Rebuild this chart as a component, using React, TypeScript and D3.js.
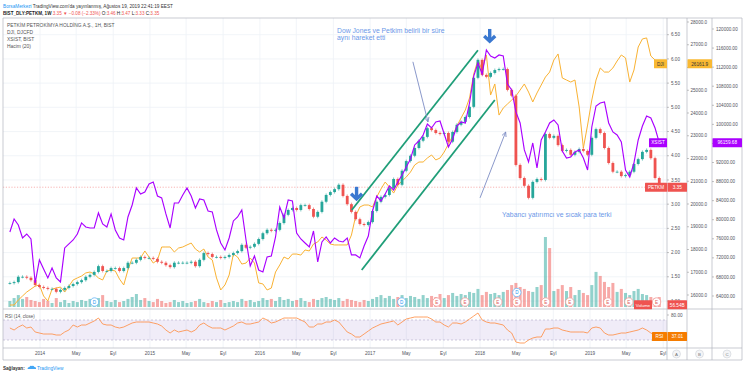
import React from 'react';
import * as d3 from 'd3';

// ---------------- DATA ----------------
const START_DATE = new Date(2013, 8, 23);
const STEP_DAYS = 14;

const petkmClose = [
  1.37, 1.39, 1.50, 1.50, 1.48, 1.43, 1.33, 1.29, 1.27, 1.25,
  1.25, 1.19, 1.23, 1.27, 1.31, 1.35, 1.39, 1.43, 1.50, 1.54,
  1.60, 1.72, 1.62, 1.62, 1.68, 1.68, 1.62, 1.68, 1.79, 1.79,
  1.85, 1.91, 1.89, 1.89, 1.87, 1.81, 1.79, 1.74, 1.70, 1.79,
  1.79, 1.79, 1.79, 1.81, 1.72, 1.85, 1.99, 1.97, 1.91, 1.91,
  1.89, 1.91, 1.95, 1.99, 2.03, 2.16, 2.10, 2.12, 2.18, 2.28,
  2.40, 2.47, 2.45, 2.47, 2.61, 2.78, 2.88, 2.92, 2.88, 2.98,
  2.98, 2.90, 2.74, 2.84, 3.05, 3.19, 3.25, 3.31, 3.40, 3.17,
  3.00, 2.84, 2.69, 2.59, 2.57, 2.63, 2.86, 3.05, 3.15, 3.19,
  3.33, 3.52, 3.40, 3.69, 3.89, 4.00, 4.16, 4.31, 4.39, 4.57,
  4.53, 4.47, 4.45, 4.47, 4.29, 4.49, 4.64, 4.70, 4.80, 5.01,
  5.61, 5.98, 5.67, 5.63, 5.71, 5.77, 5.79, 5.79, 5.36, 5.24,
  3.81, 3.54, 3.38, 3.13, 3.46, 3.52, 3.50, 4.45, 4.37, 4.41,
  4.22, 4.10, 4.12, 4.02, 4.08, 4.14, 4.10, 4.02, 4.37, 4.55,
  4.47, 4.16, 3.85, 3.67, 3.67, 3.58, 3.60, 3.67, 3.83, 3.93,
  4.08, 4.12, 3.95, 3.54, 3.35,
];

const djiClose = [
  15560, 15560, 15780, 15955, 16130, 16260, 16390, 16440, 15955, 15735,
  16260, 16305, 16350, 16130, 16390, 16660, 16750, 16835, 16970, 17010,
  16925, 16750, 16660, 17055, 17100, 17055, 16700, 16440, 17100, 17625,
  17625, 17625, 17935, 17670, 17405, 17540, 18110, 18110, 18110, 17890,
  18065, 18110, 18200, 18285, 18020, 17890, 18020, 17670, 17540, 16750,
  16220, 16440, 16880, 17800, 17670, 17360, 17405, 17625, 17405, 16530,
  16485, 16220, 16305, 17010, 17320, 17670, 17580, 17800, 17800, 17755,
  17980, 17935, 18240, 18330, 18550, 18415, 18240, 18200, 18200, 18200,
  18200, 18635, 19470, 19870, 19955, 19955, 19870, 20310, 20660, 20965,
  20745, 20480, 20835, 21010, 21185, 21405, 21715, 21845, 21845, 22020,
  22155, 21935, 22020, 22285, 22635, 22990, 23430, 23780, 24130, 24660,
  25715, 26330, 25890, 26550, 24790, 25275, 23910, 24220, 24395, 24570,
  24745, 25010, 25275, 24920, 24485, 24880, 25230, 25580, 25800, 26330,
  26595, 25540, 25450, 25360, 25450, 24265, 22460, 23470, 24570, 25450,
  25980, 25800, 25800, 25980, 26285, 26550, 26420, 25360, 25890, 26900,
  27255, 27300, 26505, 26330, 26161.9,
];

const xsistClose = [
  77430, 80160, 78900, 76170, 77010, 75960, 66740, 71560, 69670, 67790,
  69880, 67790, 66950, 74080, 74920, 75750, 77010, 79320, 78480, 78270,
  78270, 81420, 79110, 78480, 81210, 77850, 76170, 75750, 80580, 83090,
  86660, 85400, 85820, 87500, 87920, 84980, 84560, 81210, 78270, 83510,
  83510, 85190, 86660, 84980, 82460, 84350, 84140, 81830, 81620, 77850,
  75120, 73660, 76170, 79740, 80580, 82040, 75750, 70300, 72400, 69460,
  69040, 72190, 72400, 76380, 82670, 80370, 84140, 83930, 77220, 75960,
  75120, 74290, 77640, 71140, 75330, 76380, 75120, 76170, 75540, 75330,
  76170, 72610, 72610, 71980, 74500, 76590, 81830, 84980, 83930, 85400,
  87080, 86240, 87920, 89390, 91060, 92740, 95680, 96510, 97770, 100080,
  99240, 100500, 100710, 97980, 95260, 96930, 99660, 100500, 100290, 104480,
  110140, 112870, 110560, 115600, 114340, 113920, 114550, 114340, 108470, 107210,
  102600, 100290, 94630, 92110, 96090, 90850, 96720, 98400, 100290, 100920,
  99870, 94420, 92950, 93160, 94210, 94630, 92950, 90430, 99450, 103850,
  104480, 104690, 100290, 98400, 97770, 96300, 90430, 88960, 91900, 96720,
  99660, 101760, 101340, 99240, 96159.68,
];

const rsiValues = [
  54, 50, 56, 60, 54, 56, 46, 44, 42, 42,
  42, 40, 40, 46, 50, 60, 56, 60, 60, 64,
  68, 74, 62, 60, 60, 56, 54, 56, 60, 64,
  66, 66, 66, 66, 64, 62, 58, 50, 44, 50,
  46, 48, 50, 46, 50, 60, 64, 58, 54, 54,
  54, 50, 54, 58, 64, 66, 62, 62, 64, 66,
  74, 70, 64, 66, 70, 74, 74, 74, 74, 70,
  66, 56, 56, 62, 62, 66, 66, 70, 66, 56,
  46, 42, 36, 36, 42, 48, 54, 58, 62, 64,
  66, 68, 60, 66, 72, 74, 76, 76, 76, 76,
  72, 66, 66, 60, 56, 64, 64, 62, 66, 72,
  78, 84, 70, 66, 64, 64, 62, 60, 50, 44,
  26, 24, 24, 30, 34, 36, 36, 52, 52, 54,
  54, 50, 48, 46, 46, 46, 46, 44, 54, 56,
  54, 44, 40, 40, 42, 44, 44, 46, 48, 50,
  54, 50, 44, 40, 37.01,
];

const volumeValues = [
  34, 51, 68, 46, 57, 40, 34,
  28, 46, 34, 23, 51, 28, 40, 23, 34,
  28, 40, 34, 46, 28, 51, 68, 34, 28, 40,
  28, 34, 46, 57, 74, 40, 51, 34, 28, 46,
  34, 23, 28, 40, 28, 34, 23, 28, 34, 46,
  28, 23, 34, 28, 40, 23, 28, 34, 28, 46,
  34, 40, 28, 34, 51, 40, 46, 34, 57, 40,
  46, 34, 40, 51, 34, 28, 46, 40, 51, 57,
  46, 40, 51, 34, 46, 40, 34, 28, 40, 34,
  46, 57, 68, 51, 63, 46, 57, 68, 51, 63,
  57, 46, 68, 51, 63, 57, 74, 51, 68, 80,
  63, 74, 68, 86, 80, 103, 68, 86, 74, 80,
  68, 86, 97, 125, 137, 114, 103, 91, 86, 114,
  125, 399, 336, 91, 103, 125, 91, 114, 68, 97,
  80, 68, 125, 200, 177, 143, 114, 137, 86, 103,
  80, 68, 91, 103, 74, 68, 57, 51, 56.54,
];

const timeTickDates = [
  '2014-01-01', '2014-05-01', '2014-09-01', '2015-01-01', '2015-05-01', '2015-09-01',
  '2016-01-01', '2016-05-01', '2016-09-01', '2017-01-01', '2017-05-01', '2017-09-01',
  '2018-01-01', '2018-05-01', '2018-09-01', '2019-01-01', '2019-05-01', '2019-09-01',
];
const timeTickLabels = [
  '2014', 'May', 'Eyl', '2015', 'May', 'Eyl', '2016', 'May', 'Eyl',
  '2017', 'May', 'Eyl', '2018', 'May', 'Eyl', '2019', 'May', 'Eyl',
];
const petkmTicks = [1.0, 1.5, 2.0, 2.5, 3.0, 3.5, 4.0, 4.5, 5.0, 5.5, 6.0, 6.5];
const djiTicks = [16000, 17000, 18000, 19000, 20000, 21000, 22000, 23000, 24000, 25000, 26000, 27000, 28000];
const xsistTicks = [64000, 68000, 72000, 76000, 80000, 84000, 88000, 92000, 96000, 100000, 104000, 108000, 112000, 116000, 120000];

const dividendDates = ['2014-07-01', '2017-04-16'];
const dividendStacked = ['2018-05-03'];
const earningsDates = ['2017-08-10', '2017-11-12', '2018-03-01', '2018-05-03', '2018-08-07', '2018-10-26', '2019-03-01', '2019-05-10', '2019-08-10'];

// drawings anchored to [date, PETKM price]
const channelUpper: [string, number][] = [['2016-11-01', 2.88], ['2017-12-25', 6.18]];
const channelLower: [string, number][] = [['2016-12-04', 1.64], ['2018-02-19', 5.15]];
const arrowTips: [string, number][] = [['2016-11-17', 3.09], ['2018-02-02', 6.35]];
const pointer1: [string, number][] = [['2017-05-23', 5.94], ['2017-07-12', 4.70]];
const pointer2: [string, number][] = [['2018-01-01', 3.13], ['2018-03-27', 4.49]];
const note1Anchor: [string, number] = ['2016-09-13', 6.53];
const note2Anchor: [string, number] = ['2018-03-15', 2.73];

const FONT = "'Liberation Sans', Arial, sans-serif";
const UP = '#26a69a';
const DOWN = '#ef5350';
const DJI_COLOR = '#f9b233';
const XSIST_COLOR = '#aa00ff';
const RSI_COLOR = '#ff8a3d';
const NOTE_COLOR = '#6b98e8';

const pd = (s: string) => new Date(s + 'T00:00:00');

function Tag({ x, y, w, text, fill, color = '#fff', fs = 4.7 }: any) {
  return (
    <g>
      <rect x={x} y={y - 4.5} width={w} height={9} fill={fill} rx={0.5} />
      <text x={x + w / 2} y={y + 1.7} fontSize={fs} fill={color} textAnchor="middle" fontFamily={FONT}>{text}</text>
    </g>
  );
}

export default function App() {
  const L = 3, R = 667;
  const mainTop = 18, mainBottom = 309, rsiBottom = 348, axisBottom = 360;
  const colP = 667, colD = 687, colX = 712, colEnd = 742;

  const x = d3.scaleTime().domain([pd('2014-01-01'), pd('2019-01-01')]).range([40, 590]);
  const yP = d3.scaleLinear().domain([1, 6.5]).range([301, 34.7]);
  const yD = d3.scaleLinear().domain([16000, 28000]).range([295, 22]);
  const yX = d3.scaleLinear().domain([64000, 120000]).range([296, 29]);
  const yR = d3.scaleLinear().domain([30, 70]).range([340, 320]);
  const yV = d3.scaleLinear().domain([0, d3.max(volumeValues) as number]).range([307, 237]);

  const dates = petkmClose.map((_, i) => d3.timeDay.offset(START_DATE, i * STEP_DAYS));
  const candles = petkmClose.map((c, i) => {
    const o = i > 0 ? petkmClose[i - 1] : c;
    return { d: dates[i], o, c, up: c >= o, v: volumeValues[i] };
  });

  const lineGen = (ys: (v: number) => number) =>
    d3.line<number>().x((_, i) => x(dates[i])).y((v) => ys(v));

  const djiPath = lineGen(yD)(djiClose) || '';
  const xsistPath = lineGen(yX)(xsistClose) || '';
  const rsiPath = lineGen(yR)(rsiValues) || '';

  const tX = timeTickDates.map((s) => x(pd(s)));
  const ptp = (a: [string, number]) => [x(pd(a[0])), yP(a[1])];

  const drawLine = (seg: [string, number][], stroke: string, w: number, key: string) => {
    const [a, b] = [ptp(seg[0]), ptp(seg[1])];
    return <line key={key} x1={a[0]} y1={a[1]} x2={b[0]} y2={b[1]} stroke={stroke} strokeWidth={w} />;
  };

  const pointer = (seg: [string, number][], key: string) => {
    const [a, b] = [ptp(seg[0]), ptp(seg[1])];
    const ang = Math.atan2(b[1] - a[1], b[0] - a[0]);
    const hl = 5, ha = 0.45;
    const p1 = [b[0] - hl * Math.cos(ang - ha), b[1] - hl * Math.sin(ang - ha)];
    const p2 = [b[0] - hl * Math.cos(ang + ha), b[1] - hl * Math.sin(ang + ha)];
    return (
      <g key={key} stroke="#7d8cc4" strokeWidth={0.9} fill="none">
        <line x1={a[0]} y1={a[1]} x2={b[0]} y2={b[1]} />
        <polyline points={`${p1[0]},${p1[1]} ${b[0]},${b[1]} ${p2[0]},${p2[1]}`} />
      </g>
    );
  };

  const bigArrow = (tip: [string, number], key: string) => {
    const [cx, ty] = ptp(tip);
    return (
      <g key={key} stroke="#3a78d0" strokeWidth={3.4} fill="none">
        <line x1={cx} y1={ty - 13} x2={cx} y2={ty - 2} />
        <polyline points={`${cx - 5.5},${ty - 6} ${cx},${ty - 0.8} ${cx + 5.5},${ty - 6}`} strokeLinejoin="miter" />
      </g>
    );
  };

  const lastP = petkmClose[petkmClose.length - 1];
  const lastD = djiClose[djiClose.length - 1];
  const lastX = xsistClose[xsistClose.length - 1];
  const lastR = rsiValues[rsiValues.length - 1];
  const lastV = volumeValues[volumeValues.length - 1];

  // hide tick labels covered by the last-value tags
  const free = (ty: number, tagY: number) => Math.abs(ty - tagY) > 6;

  const n1 = ptp(note1Anchor);
  const n2 = ptp(note2Anchor);

  return (
    <svg width={745} height={375} style={{ position: 'absolute', left: 0, top: 0, background: '#fff' }} fontFamily={FONT}>
      <defs>
        <clipPath id="mainClip"><rect x={L} y={mainTop} width={R - L} height={mainBottom - mainTop} /></clipPath>
        <clipPath id="rsiClip"><rect x={L} y={mainBottom} width={R - L} height={rsiBottom - mainBottom} /></clipPath>
      </defs>

      {/* header */}
      <text x={3} y={7.5} fontSize={4.7}>
        <tspan fill="#2196f3">BorsaMerkezi</tspan>
        <tspan fill="#333"> TradingView.com'da yayınlanmış, Ağustos 19, 2019 22:41:19 EEST</tspan>
      </text>
      <text x={3} y={14.5} fontSize={4.6} fill="#222">
        <tspan fontWeight="bold">BIST_DLY:PETKM, 1W</tspan>
        <tspan fill={DOWN}>  3.35 ▼ −0.08 (−2.33%) </tspan>
        <tspan>O:</tspan><tspan fill={DOWN}>3.46 </tspan>
        <tspan>H:</tspan><tspan fill={DOWN}>3.47 </tspan>
        <tspan>L:</tspan><tspan fill={DOWN}>3.33 </tspan>
        <tspan>C:</tspan><tspan fill={DOWN}>3.35</tspan>
      </text>

      {/* grid */}
      <g stroke="#eef1f6" strokeWidth={0.8}>
        {tX.map((tx, i) => (tx < R ? <line key={'vg' + i} x1={tx} x2={tx} y1={mainTop} y2={rsiBottom} /> : null))}
        {petkmTicks.map((t, i) => <line key={'hg' + i} x1={L} x2={R} y1={yP(t)} y2={yP(t)} />)}
      </g>

      {/* main pane */}
      <g clipPath="url(#mainClip)">
        <line x1={L} x2={R} y1={yP(lastP)} y2={yP(lastP)} stroke="rgba(239,83,80,0.55)" strokeWidth={0.8} strokeDasharray="1.2,1.6" />
        {candles.map((k, i) => (
          <rect key={'v' + i} x={x(k.d) - 1.5} width={3} y={yV(k.v)} height={yV(0) - yV(k.v)}
            fill={k.up ? 'rgba(38,166,154,0.5)' : 'rgba(239,83,80,0.5)'} />
        ))}
        <path d={djiPath} fill="none" stroke={DJI_COLOR} strokeWidth={1} />
        {candles.map((k, i) => {
          const top = yP(Math.max(k.o, k.c));
          const bot = yP(Math.min(k.o, k.c));
          const col = k.up ? UP : DOWN;
          return (
            <g key={'c' + i}>
              <line x1={x(k.d)} x2={x(k.d)} y1={top - 1.5} y2={bot + 1.5} stroke={col} strokeWidth={0.6} />
              <rect x={x(k.d) - 1.4} width={2.8} y={top} height={Math.max(0.8, bot - top)} fill={col} />
            </g>
          );
        })}
        <path d={xsistPath} fill="none" stroke={XSIST_COLOR} strokeWidth={1.15} />
        {drawLine(channelUpper, '#1f9e78', 1.8, 'cu')}
        {drawLine(channelLower, '#1f9e78', 1.8, 'cl')}
        {pointer(pointer1, 'p1')}
        {pointer(pointer2, 'p2')}
        {arrowTips.map((t, i) => bigArrow(t, 'ba' + i))}
        <text x={n1[0]} y={n1[1]} fontSize={6.8} fill={NOTE_COLOR}>
          <tspan x={n1[0]}>Dow Jones ve Petkim belirli bir süre</tspan>
          <tspan x={n1[0]} dy={7.2}>aynı hareket etti</tspan>
        </text>
        <text x={n2[0]} y={n2[1]} fontSize={6.8} fill={NOTE_COLOR}>Yabancı yatırımcı ve sıcak para terki</text>
      </g>

      {/* legend */}
      <g fontSize={4.9} fill="#555">
        <text x={7} y={26.5}>PETKİM PETROKİMYA HOLDİNG A.Ş., 1H, BIST</text>
        <text x={7} y={33.8}>DJI, DJCFD</text>
        <text x={7} y={41}>XSIST, BIST</text>
        <text x={7} y={48.3}>Hacim (20)</text>
      </g>

      {/* RSI pane */}
      <g clipPath="url(#rsiClip)">
        <rect x={L} y={yR(70)} width={R - L} height={yR(30) - yR(70)} fill="rgba(149,117,205,0.14)" />
        <line x1={L} x2={R} y1={yR(70)} y2={yR(70)} stroke="#b0a8c8" strokeWidth={0.6} strokeDasharray="2,2" />
        <line x1={L} x2={R} y1={yR(30)} y2={yR(30)} stroke="#b0a8c8" strokeWidth={0.6} strokeDasharray="2,2" />
        <path d={rsiPath} fill="none" stroke={RSI_COLOR} strokeWidth={0.8} />
      </g>
      <text x={5} y={317.5} fontSize={4.5} fill="#555">RSI (14, close)</text>

      {/* frame */}
      <g stroke="#b2b5be" strokeWidth={0.7} fill="none">
        <line x1={L} x2={colEnd} y1={mainTop} y2={mainTop} />
        <line x1={L} x2={colEnd} y1={mainBottom} y2={mainBottom} />
        <line x1={L} x2={colEnd} y1={rsiBottom} y2={rsiBottom} />
        <line x1={L} x2={colEnd} y1={axisBottom} y2={axisBottom} />
        <line x1={L} x2={L} y1={mainTop} y2={axisBottom} />
        <line x1={colP} x2={colP} y1={mainTop} y2={axisBottom} />
        <line x1={colD} x2={colD} y1={mainTop} y2={axisBottom} />
        <line x1={colX} x2={colX} y1={mainTop} y2={axisBottom} />
        <line x1={colEnd} x2={colEnd} y1={mainTop} y2={axisBottom} />
      </g>

      {/* axes */}
      <g fontSize={4.6} fill="#50535e">
        {petkmTicks.map((t, i) => (
          <g key={'pt' + i}>
            <line x1={colP} x2={colP + 2} y1={yP(t)} y2={yP(t)} stroke="#888" strokeWidth={0.5} />
            {free(yP(t), yP(lastP)) ? <text x={colP + 4} y={yP(t) + 1.6}>{t.toFixed(2)}</text> : null}
          </g>
        ))}
        {djiTicks.map((t, i) => (
          <g key={'dt' + i}>
            <line x1={colD} x2={colD + 2} y1={yD(t)} y2={yD(t)} stroke="#888" strokeWidth={0.5} />
            {free(yD(t), yD(lastD)) ? <text x={colD + 3.5} y={yD(t) + 1.6}>{t.toFixed(1)}</text> : null}
          </g>
        ))}
        {xsistTicks.map((t, i) => (
          <g key={'xt' + i}>
            <line x1={colX} x2={colX + 2} y1={yX(t)} y2={yX(t)} stroke="#888" strokeWidth={0.5} />
            {free(yX(t), yX(lastX)) ? <text x={colX + 4} y={yX(t) + 1.6}>{t.toFixed(2)}</text> : null}
          </g>
        ))}
        <line x1={colP} x2={colP + 2} y1={yR(80)} y2={yR(80)} stroke="#888" strokeWidth={0.5} />
        <text x={colP + 4} y={yR(80) + 1.6}>80.00</text>
        {timeTickLabels.map((lab, i) => (
          <text key={'tl' + i} x={tX[i]} y={355} textAnchor="middle">{lab}</text>
        ))}
      </g>

      {/* price tags */}
      <Tag x={654} y={yD(lastD)} w={13} text="DJI" fill="#f9b933" color="#333" />
      <Tag x={colD + 0.5} y={yD(lastD)} w={24.5} text={lastD.toFixed(1)} fill="#f9b933" color="#333" />
      <Tag x={649} y={yX(lastX)} w={18} text="XSIST" fill={XSIST_COLOR} />
      <Tag x={colX + 0.5} y={yX(lastX)} w={29.5} text={lastX.toFixed(2)} fill={XSIST_COLOR} />
      <Tag x={645} y={yP(lastP)} w={22} text="PETKM" fill={DOWN} />
      <Tag x={colP + 0.5} y={yP(lastP)} w={19.5} text={lastP.toFixed(2)} fill={DOWN} />
      <Tag x={634} y={304.8} w={18} text="Volume" fill={DOWN} fs={4.3} />
      <Tag x={colP + 0.5} y={304.8} w={19.5} text={lastV.toFixed(2) + 'B'} fill={DOWN} />
      <Tag x={652} y={yR(lastR)} w={15} text="RSI" fill="#f57c00" />
      <Tag x={colP + 0.5} y={yR(lastR)} w={19.5} text={lastR.toFixed(2)} fill="#f57c00" />

      {/* event markers */}
      <g clipPath="url(#mainClip)">
        {earningsDates.map((s, i) => (
          <g key={'e' + i}>
            <circle cx={x(pd(s))} cy={302} r={4.2} fill="#fff" stroke="#f19a98" strokeWidth={0.8} />
            <text x={x(pd(s))} y={303.7} fontSize={4.6} textAnchor="middle" fill="#e0605d">E</text>
          </g>
        ))}
        {dividendDates.map((s, i) => (
          <g key={'d' + i}>
            <circle cx={x(pd(s))} cy={302} r={4.2} fill="#fff" stroke="#64b5f6" strokeWidth={0.8} />
            <text x={x(pd(s))} y={303.7} fontSize={4.6} textAnchor="middle" fill="#2196f3">D</text>
          </g>
        ))}
        {dividendStacked.map((s, i) => (
          <g key={'ds' + i}>
            <circle cx={x(pd(s))} cy={292.5} r={4.2} fill="#fff" stroke="#64b5f6" strokeWidth={0.8} />
            <text x={x(pd(s))} y={294.2} fontSize={4.6} textAnchor="middle" fill="#2196f3">D</text>
          </g>
        ))}
      </g>

      {/* A B C */}
      {[['A', 676.5], ['B', 699.5], ['C', 727]].map(([lab, cx]) => (
        <g key={lab as string}>
          <circle cx={cx as number} cy={354} r={4} fill="#f4f5f7" stroke="#cfd2d8" strokeWidth={0.6} />
          <text x={cx as number} y={355.7} fontSize={4.4} textAnchor="middle" fill="#777">{lab}</text>
        </g>
      ))}

      {/* footer */}
      <text x={3} y={370} fontSize={4.6} fill="#333" fontWeight="bold">Sağlayan:</text>
      <g transform="translate(27.5,366)">
        <path d="M0,3 Q0,1 2,1 Q2.5,-0.8 4.5,0 Q6,-0.6 7,1 Q9,1 8.6,3 Z" fill="#2196f3" opacity={0.85} />
      </g>
      <text x={37} y={370} fontSize={4.8} fill="#2196f3">TradingView</text>
    </svg>
  );
}
